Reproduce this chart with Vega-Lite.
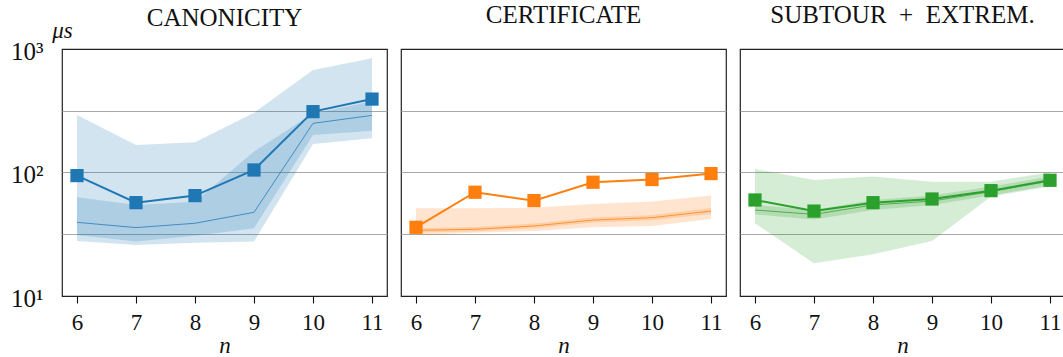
{
  "$schema": "https://vega.github.io/schema/vega-lite/v6.json",
  "padding": {"left": 9, "top": 2, "right": 0, "bottom": 0},
  "spacing": 12,
  "datasets": {
    "canonicity": [
      {"n": 6, "mean": 94.4, "median": 39.5, "q_lo": 31.2, "q_hi": 63, "lo": 27.9, "hi": 292},
      {"n": 7, "mean": 57, "median": 35.8, "q_lo": 27.6, "q_hi": 54.6, "lo": 25.9, "hi": 167},
      {"n": 8, "mean": 65, "median": 38.8, "q_lo": 30.8, "q_hi": 58, "lo": 27.0, "hi": 176},
      {"n": 9, "mean": 104.8, "median": 47.6, "q_lo": 35.3, "q_hi": 147.6, "lo": 27.6, "hi": 305},
      {"n": 10, "mean": 311, "median": 250, "q_lo": 201, "q_hi": 300, "lo": 170, "hi": 676},
      {"n": 11, "mean": 393, "median": 290, "q_lo": 218, "q_hi": 375, "lo": 189, "hi": 841}
    ],
    "certificate": [
      {"n": 6, "mean": 36, "median": 34.0, "q_lo": 32.6, "q_hi": 35.3, "lo": 31.0, "hi": 51.3},
      {"n": 7, "mean": 69.2, "median": 34.7, "q_lo": 33.3, "q_hi": 36.2, "lo": 32.5, "hi": 51.3},
      {"n": 8, "mean": 59.2, "median": 36.9, "q_lo": 35.4, "q_hi": 38.6, "lo": 33.6, "hi": 51.8},
      {"n": 9, "mean": 83.4, "median": 41.2, "q_lo": 39.4, "q_hi": 43.3, "lo": 36, "hi": 55.6},
      {"n": 10, "mean": 87.7, "median": 43.1, "q_lo": 41.1, "q_hi": 45.3, "lo": 36.9, "hi": 58.1},
      {"n": 11, "mean": 98, "median": 48.7, "q_lo": 46.2, "q_hi": 51.5, "lo": 42, "hi": 65}
    ],
    "subtour": [
      {"n": 6, "mean": 59.9, "median": 49.7, "q_lo": 45.8, "q_hi": 54.6, "lo": 38.8, "hi": 106.6},
      {"n": 7, "mean": 48.7, "median": 45.8, "q_lo": 41.7, "q_hi": 49.7, "lo": 18.4, "hi": 86.9},
      {"n": 8, "mean": 57, "median": 54.6, "q_lo": 49.7, "q_hi": 59.9, "lo": 21.8, "hi": 92.6},
      {"n": 9, "mean": 61, "median": 58.7, "q_lo": 54.6, "q_hi": 65, "lo": 27.9, "hi": 84.3},
      {"n": 10, "mean": 71.3, "median": 70, "q_lo": 65, "q_hi": 76.9, "lo": 63.8, "hi": 84.3},
      {"n": 11, "mean": 86.5, "median": 85.3, "q_lo": 79, "q_hi": 92.6, "lo": 76.9, "hi": 100.5}
    ]
  },
  "hconcat": [
    {
      "width": 325,
      "height": 247,
      "title": {"text": "CANONICITY", "offset": 21, "dy": 33},
      "data": {"name": "canonicity"},
      "encoding": {
        "x": {
          "field": "n", "type": "quantitative",
          "scale": {"domain": [5.746, 11.254], "nice": false, "zero": false},
          "axis": {"values": [6, 7, 8, 9, 10, 11], "title": "n"}
        }
      },
      "layer": [
        {
          "mark": {"type": "area", "color": "#1f77b4", "opacity": 0.2},
          "encoding": {
            "y": {
              "field": "hi", "type": "quantitative", "title": "μs",
              "scale": {"type": "log", "domain": [10, 1000], "nice": false},
              "axis": {
                "values": [10, 31.6228, 100, 316.228, 1000],
                "labelExpr": "datum.value == 10 ? '10¹' : datum.value == 100 ? '10²' : datum.value == 1000 ? '10³' : ''",
                "gridOpacity": {"condition": {"test": "datum.value == 10 || datum.value == 1000", "value": 0}, "value": 1},
                "labelFont": "Liberation Serif",
                "labelFontSize": 25,
                "labelPadding": 19,
                "labelOffset": 2,
                "titleAngle": 0,
                "titleX": 0,
                "titleY": -12,
                "titleAlign": "center",
                "titleBaseline": "alphabetic",
                "titleFont": "Liberation Serif",
                "titleFontStyle": "italic",
                "titleFontSize": 23
              }
            },
            "y2": {"field": "lo"}
          }
        },
        {
          "mark": {"type": "area", "color": "#1f77b4", "opacity": 0.2},
          "encoding": {"y": {"field": "q_hi", "type": "quantitative", "title": "μs"}, "y2": {"field": "q_lo"}}
        },
        {
          "mark": {"type": "line", "color": "#1f77b4", "strokeWidth": 1, "opacity": 0.75},
          "encoding": {"y": {"field": "median", "type": "quantitative", "title": "μs"}}
        },
        {
          "mark": {"type": "line", "color": "#1f77b4", "strokeWidth": 2},
          "encoding": {"y": {"field": "mean", "type": "quantitative", "title": "μs"}}
        },
        {
          "mark": {"type": "point", "shape": "square", "filled": true, "opacity": 1, "size": 175, "color": "#1f77b4"},
          "encoding": {"y": {"field": "mean", "type": "quantitative", "title": "μs"}}
        }
      ]
    },
    {
      "width": 325,
      "height": 247,
      "title": {"text": "CERTIFICATE", "offset": 21},
      "data": {"name": "certificate"},
      "encoding": {
        "x": {
          "field": "n", "type": "quantitative",
          "scale": {"domain": [5.746, 11.254], "nice": false, "zero": false},
          "axis": {"values": [6, 7, 8, 9, 10, 11], "title": "n"}
        }
      },
      "layer": [
        {
          "mark": {"type": "area", "color": "#ff7f0e", "opacity": 0.2},
          "encoding": {
            "y": {
              "field": "hi", "type": "quantitative", "title": null,
              "scale": {"type": "log", "domain": [10, 1000], "nice": false},
              "axis": {
                "values": [10, 31.6228, 100, 316.228, 1000],
                "labels": false,
                "gridOpacity": {"condition": {"test": "datum.value == 10 || datum.value == 1000", "value": 0}, "value": 1}
              }
            },
            "y2": {"field": "lo"}
          }
        },
        {
          "mark": {"type": "area", "color": "#ff7f0e", "opacity": 0.2},
          "encoding": {"y": {"field": "q_hi", "type": "quantitative", "title": null}, "y2": {"field": "q_lo"}}
        },
        {
          "mark": {"type": "line", "color": "#ff7f0e", "strokeWidth": 1, "opacity": 0.75},
          "encoding": {"y": {"field": "median", "type": "quantitative", "title": null}}
        },
        {
          "mark": {"type": "line", "color": "#ff7f0e", "strokeWidth": 2},
          "encoding": {"y": {"field": "mean", "type": "quantitative", "title": null}}
        },
        {
          "mark": {"type": "point", "shape": "square", "filled": true, "opacity": 1, "size": 175, "color": "#ff7f0e"},
          "encoding": {"y": {"field": "mean", "type": "quantitative", "title": null}}
        }
      ]
    },
    {
      "width": 325,
      "height": 247,
      "title": {"text": "SUBTOUR\u2002+\u2002EXTREM.", "offset": 21},
      "data": {"name": "subtour"},
      "encoding": {
        "x": {
          "field": "n", "type": "quantitative",
          "scale": {"domain": [5.746, 11.254], "nice": false, "zero": false},
          "axis": {"values": [6, 7, 8, 9, 10, 11], "title": "n"}
        }
      },
      "layer": [
        {
          "mark": {"type": "area", "color": "#2ca02c", "opacity": 0.2},
          "encoding": {
            "y": {
              "field": "hi", "type": "quantitative", "title": null,
              "scale": {"type": "log", "domain": [10, 1000], "nice": false},
              "axis": {
                "values": [10, 31.6228, 100, 316.228, 1000],
                "labels": false,
                "gridOpacity": {"condition": {"test": "datum.value == 10 || datum.value == 1000", "value": 0}, "value": 1}
              }
            },
            "y2": {"field": "lo"}
          }
        },
        {
          "mark": {"type": "area", "color": "#2ca02c", "opacity": 0.2},
          "encoding": {"y": {"field": "q_hi", "type": "quantitative", "title": null}, "y2": {"field": "q_lo"}}
        },
        {
          "mark": {"type": "line", "color": "#2ca02c", "strokeWidth": 1, "opacity": 0.75},
          "encoding": {"y": {"field": "median", "type": "quantitative", "title": null}}
        },
        {
          "mark": {"type": "line", "color": "#2ca02c", "strokeWidth": 2},
          "encoding": {"y": {"field": "mean", "type": "quantitative", "title": null}}
        },
        {
          "mark": {"type": "point", "shape": "square", "filled": true, "opacity": 1, "size": 175, "color": "#2ca02c"},
          "encoding": {"y": {"field": "mean", "type": "quantitative", "title": null}}
        }
      ]
    }
  ],
  "config": {
    "font": "Liberation Serif",
    "view": {"stroke": "#222222", "strokeWidth": 1.2},
    "title": {"font": "Liberation Serif", "fontSize": 25, "fontWeight": "normal", "color": "#111111", "baseline": "alphabetic"},
    "axis": {
      "labelFont": "Liberation Serif",
      "labelFontSize": 23,
      "labelColor": "#111111",
      "labelFlush": false,
      "titleFont": "Liberation Serif",
      "titleFontWeight": "normal",
      "titleColor": "#111111",
      "gridColor": "#a8a8a8",
      "gridWidth": 1
    },
    "axisX": {
      "grid": false,
      "domain": false,
      "ticks": true,
      "tickSize": 7,
      "tickColor": "#111111",
      "tickWidth": 1.1,
      "labelFont": "Liberation Serif",
      "labelPadding": 8,
      "titleFont": "Liberation Serif",
      "titleFontStyle": "italic",
      "titleFontSize": 23,
      "titlePadding": 0
    },
    "axisY": {
      "grid": true,
      "domain": false,
      "ticks": false,
      "tickSize": 0,
      "labelFont": "Liberation Serif"
    }
  }
}
